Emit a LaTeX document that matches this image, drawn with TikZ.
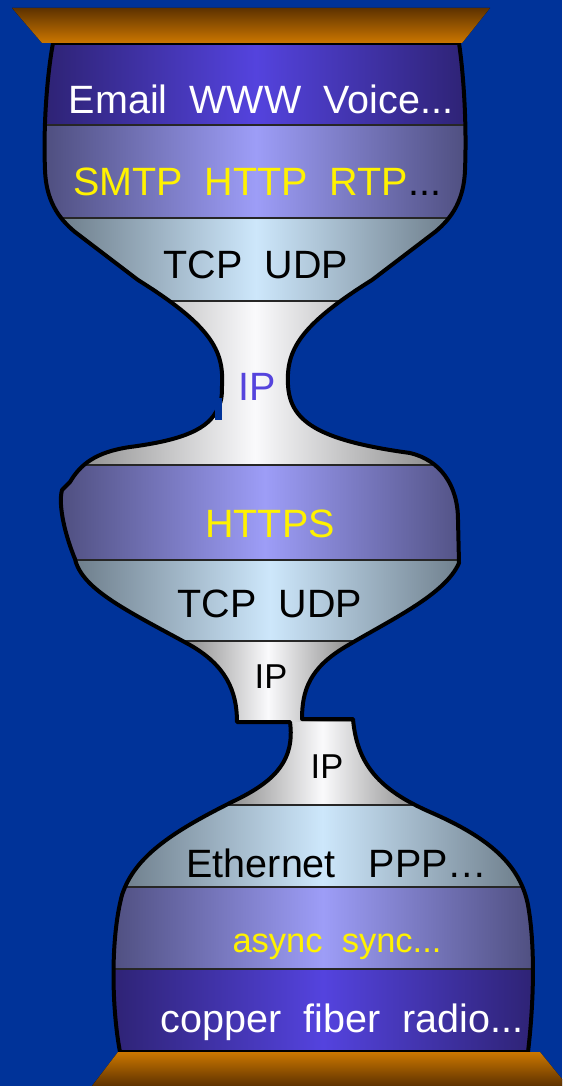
\documentclass[tikz,border=0pt]{standalone}
\usepackage{fontspec}
\setmainfont{Liberation Sans}
\usetikzlibrary{positioning}

\definecolor{bgblue}{HTML}{003399}
\definecolor{deepL}{HTML}{2D2272}
\definecolor{deepM}{HTML}{5443DE}
\definecolor{lavL}{HTML}{4D4D7D}
\definecolor{lavM}{HTML}{9D9DF7}
\definecolor{skyL}{HTML}{6B7B88}
\definecolor{skyM}{HTML}{CDE7FB}
\definecolor{ipL}{HTML}{8A8A8A}
\definecolor{ipM}{HTML}{FAFAFC}
\definecolor{capdark}{HTML}{5E3200}
\definecolor{caplight}{HTML}{CC7700}
\definecolor{iptext}{HTML}{5544DD}

\tikzset{
  deepband/.style={left color=deepL, right color=deepL, middle color=deepM},
  lavband/.style={left color=lavL, right color=lavL, middle color=lavM},
  skyband/.style={left color=skyL, right color=skyL, middle color=skyM},
  ipband/.style={left color=ipL, right color=ipL, middle color=ipM},
  sepline/.style={line width=1.6pt, draw=black!85},
  outline/.style={line width=4pt, draw=black, line join=round},
  lbl/.style={font=\fontsize{39.5}{42}\selectfont, inner sep=0pt, anchor=base},
  smalllbl/.style={lbl, font=\fontsize{34.5}{37}\selectfont}
}

% body of the glass, in pixels
\newcommand{\hourglass}{(53,43) -- (459,43)
  .. controls (463,70) and (467,120) .. (465,170)
  .. controls (464,200) and (452,218) .. (435,232) -- (372,280)
  .. controls (300,325) and (286,350) .. (288,385)
  .. controls (290,420) and (315,440) .. (410,453)
  .. controls (440,460) and (458,485) .. (458,520) -- (459,563)
  .. controls (445,595) and (390,620) .. (345,647)
  .. controls (310,668) and (302,690) .. (302,719) -- (353,719)
  .. controls (357,765) and (380,790) .. (430,812)
  .. controls (490,838) and (520,865) .. (528,905)
  .. controls (536,950) and (533,1010) .. (528,1052) -- (120,1052)
  .. controls (112,1010) and (110,940) .. (122,895)
  .. controls (135,855) and (175,830) .. (240,798)
  .. controls (275,780) and (295,760) .. (290,722) -- (237,722)
  .. controls (237,690) and (225,665) .. (190,645)
  .. controls (130,612) and (82,590) .. (75,559)
  .. controls (65,535) and (58,505) .. (62,490) -- (70,482)
  .. controls (80,465) and (95,452) .. (130,447)
  .. controls (175,441) and (205,432) .. (216,412)
  .. controls (222,402) and (222,395) .. (222,385)
  .. controls (224,350) and (210,325) .. (138,280) -- (75,232)
  .. controls (58,218) and (46,200) .. (45,170)
  .. controls (43,120) and (48,70) .. (53,43) -- cycle}

\begin{document}
\begin{tikzpicture}[x=1pt,y=-1pt]
    % Background
    \fill[bgblue] (0,0) rectangle (562,1086);
    \useasboundingbox (0,0) rectangle (562,1086);
    % Layers
    \begin{scope}
        \clip \hourglass;
        \fill[deepband] (40,30) rectangle (472,125);
        \fill[lavband] (40,125) rectangle (472,218);
        \fill[skyband] (55,218) rectangle (457,301);
        \fill[ipband] (70,301) rectangle (440,465);
        \fill[lavband] (55,465) rectangle (475,560);
        \fill[skyband] (70,560) rectangle (470,641);
        \fill[ipband] (183,641) rectangle (353,722);
        \fill[ipband] (227,722) rectangle (418,805);
        \fill[skyband] (115,805) rectangle (530,887);
        \fill[lavband] (106,887) rectangle (540,969);
        \fill[deepband] (106,969) rectangle (540,1060);
        \foreach \y in {125,218,301,465,560,641,805,887,969}
            \draw[sepline] (0,\y) -- (562,\y);
    \end{scope}
    \draw[outline] \hourglass;
    \fill[bgblue] (215,398) rectangle (222,420);
    % Caps
    \fill[top color=capdark, bottom color=caplight] (12,8) -- (490,8) -- (462,43) -- (42,43) -- cycle;
    \fill[top color=caplight, bottom color=capdark] (118,1052) -- (540,1052) -- (562,1079) -- (562,1086) -- (92,1086) -- cycle;
    % Labels
    \node[lbl, text=white] (apps) at (261,114) {Email~~WWW~~Voice...};
    \node[lbl, text=yellow] (appproto) at (257,196) {SMTP~~HTTP~~RTP\textcolor{black}{...}};
    \node[lbl] (transport) at (256,278) {TCP~~UDP};
    \node[lbl, text=iptext] (ipnet) at (257,400) {IP};
    \node[lbl, text=yellow] (secure) at (270,537) {HTTPS};
    \node[lbl] (transport2) at (270,617) {TCP~~UDP};
    \node[smalllbl] (ipup) at (271,688) {IP};
    \node[smalllbl] (iplow) at (327,778) {IP};
    \node[lbl] (link) at (337,877) {Ethernet~~~PPP…};
    \node[smalllbl, text=yellow] (framing) at (337,952) {async~~sync...};
    \node[lbl, text=white] (media) at (342,1032) {copper~~fiber~~radio...};
\end{tikzpicture}
\end{document}
